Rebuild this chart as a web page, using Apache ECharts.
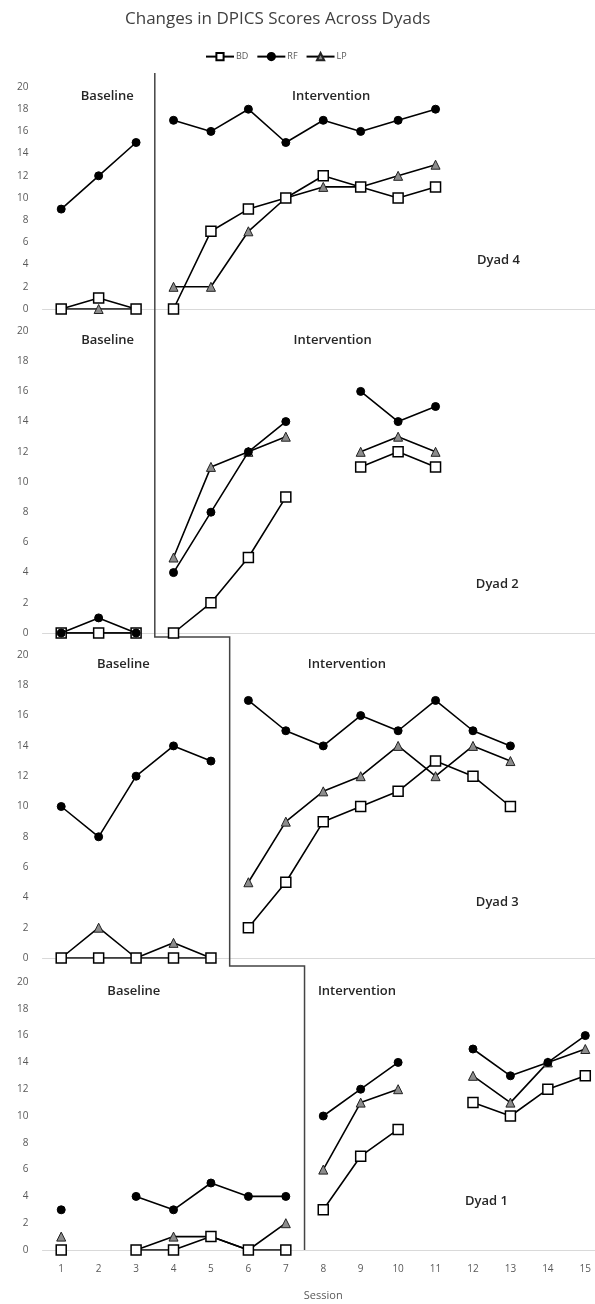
<!DOCTYPE html>
<html>
<head>
<meta charset="utf-8">
<script src="https://cdn.jsdelivr.net/npm/echarts@6/dist/echarts.min.js"></script>
<style>
html,body{margin:0;padding:0;background:#fff;}
#c{width:595px;height:1304px;}
</style>
</head>
<body>
<div id="c"></div>
<script>
// ---- data ----
const sessions = ['1','2','3','4','5','6','7','8','9','10','11','12','13','14','15'];
const yTicks = [0, 20, 2]; // min, max, step
const dyadNames = ['Dyad 4', 'Dyad 2', 'Dyad 3', 'Dyad 1'];
const phaseStart = [4, 4, 6, 8]; // first intervention session of each dyad
const measures = ['BD', 'RF', 'LP'];

const dyad4_BD = [0, 1, 0, 0, 7, 9, 10, 12, 11, 10, 11, null, null, null, null];
const dyad4_RF = [9, 12, 15, 17, 16, 18, 15, 17, 16, 17, 18, null, null, null, null];
const dyad4_LP = [0, 0, 0, 2, 2, 7, 10, 11, 11, 12, 13, null, null, null, null];

const dyad2_BD = [0, 0, 0, 0, 2, 5, 9, null, 11, 12, 11, null, null, null, null];
const dyad2_RF = [0, 1, 0, 4, 8, 12, 14, null, 16, 14, 15, null, null, null, null];
const dyad2_LP = [0, 0, 0, 5, 11, 12, 13, null, 12, 13, 12, null, null, null, null];

const dyad3_BD = [0, 0, 0, 0, 0, 2, 5, 9, 10, 11, 13, 12, 10, null, null];
const dyad3_RF = [10, 8, 12, 14, 13, 17, 15, 14, 16, 15, 17, 15, 14, null, null];
const dyad3_LP = [0, 2, 0, 1, 0, 5, 9, 11, 12, 14, 12, 14, 13, null, null];

const dyad1_BD = [0, null, 0, 0, 1, 0, 0, 3, 7, 9, null, 11, 10, 12, 13];
const dyad1_RF = [3, null, 4, 3, 5, 4, 4, 10, 12, 14, null, 15, 13, 14, 16];
const dyad1_LP = [1, null, 0, 1, 1, 0, 2, 6, 11, 12, null, 13, 11, 14, 15];

const dyadData = [
  {BD: dyad4_BD, RF: dyad4_RF, LP: dyad4_LP},
  {BD: dyad2_BD, RF: dyad2_RF, LP: dyad2_LP},
  {BD: dyad3_BD, RF: dyad3_RF, LP: dyad3_LP},
  {BD: dyad1_BD, RF: dyad1_RF, LP: dyad1_LP}
];

// ---- layout ----
const grids = [
  {top: 87, height: 222},
  {top: 331, height: 302},
  {top: 655, height: 303},
  {top: 982, height: 268}
];
const GRID_LEFT = 42.5, GRID_W = 561.5;
const FONT = 'Open Sans';

const styles = {
  BD: {symbol: 'rect', symbolSize: 10, itemStyle: {color: '#fff', borderColor: '#000', borderWidth: 1.5}, z: 3},
  RF: {symbol: 'circle', symbolSize: 8, itemStyle: {color: '#000', borderColor: '#000', borderWidth: 1}, z: 4},
  LP: {symbol: 'triangle', symbolSize: 9, itemStyle: {color: '#8c8c8c', borderColor: '#222', borderWidth: 1}, z: 2}
};

const option = {
  animation: false,
  backgroundColor: '#fff',
  title: {
    text: 'Changes in DPICS Scores Across Dyads',
    left: 120, top: 6,
    textStyle: {fontFamily: FONT, fontSize: 17, fontWeight: 'normal', color: '#404040'}
  },
  legend: {
    data: measures,
    top: 47, left: 200,
    itemWidth: 28, itemHeight: 9, itemGap: 8,
    textStyle: {fontFamily: FONT, fontSize: 9, color: '#595959', padding: [0, 0, 0, -3]}
  },
  grid: [], xAxis: [], yAxis: [], series: []
};

grids.forEach((g, i) => {
  const last = i === grids.length - 1;
  option.grid.push({left: GRID_LEFT, width: GRID_W, top: g.top, height: g.height,
    containLabel: false, outerBoundsMode: 'none'});
  option.xAxis.push({
    type: 'category', gridIndex: i, data: sessions, boundaryGap: true,
    axisLine: {lineStyle: {color: '#d9d9d9', width: 1}},
    axisTick: {show: false},
    axisLabel: {show: last, margin: 14, fontFamily: FONT, fontSize: 10, color: '#595959'},
    splitLine: {show: false},
    name: last ? 'Session' : '',
    nameLocation: 'middle', nameGap: 40,
    nameTextStyle: {fontFamily: FONT, fontSize: 11, color: '#595959'}
  });
  option.yAxis.push({
    type: 'value', gridIndex: i, min: yTicks[0], max: yTicks[1], interval: yTicks[2],
    axisLine: {show: false}, axisTick: {show: false}, splitLine: {show: false},
    axisLabel: {margin: 14, fontFamily: FONT, fontSize: 10, color: '#595959'}
  });
  const split = phaseStart[i] - 1;
  ['LP', 'BD', 'RF'].forEach(m => {
    const vals = dyadData[i][m];
    const base = vals.map((v, k) => k < split ? v : null);
    const inter = vals.map((v, k) => k >= split ? v : null);
    [base, inter].forEach(arr => {
      option.series.push(Object.assign({
        name: m, type: 'line', xAxisIndex: i, yAxisIndex: i,
        data: arr, connectNulls: false, showAllSymbol: true,
        lineStyle: {color: '#000', width: 1.6},
        emphasis: {disabled: true}
      }, JSON.parse(JSON.stringify(styles[m]))));
    });
  });
});

const chart = echarts.init(document.getElementById('c'), null, {renderer: 'canvas'});
chart.setOption(option);

// phase-change lines and panel texts, positioned through the axes' own scales
function xp(i, s) { return chart.convertToPixel({xAxisIndex: i}, String(s)); }
function yp(i, v) { return chart.convertToPixel({yAxisIndex: i}, v); }
function mid(i, s) { return (xp(i, s - 1) + xp(i, s)) / 2; }

const graphics = [];
const x1 = mid(0, phaseStart[0]);
const x2 = mid(2, phaseStart[2]);
const x3 = mid(3, phaseStart[3]);
const pts = [
  [x1, yp(0, 20) - 14],
  [x1, yp(1, 0) + 4],
  [x2, yp(1, 0) + 4],
  [x2, yp(2, 0) + 8],
  [x3, yp(2, 0) + 8],
  [x3, yp(3, 0)]
];
graphics.push({type: 'polyline', shape: {points: pts}, style: {stroke: '#444', lineWidth: 1.5, fill: null}, z: 1});

const labelStyle = {fontFamily: FONT, fontSize: 13, fontWeight: 600, fill: '#262626'};
const baseCenter = [2.23, 2.24, 2.66, 2.94];   // session position of "Baseline" label
const intCenter = [8.21, 8.25, 8.63, 8.9];     // session position of "Intervention" label
const dyadCenter = [12.68, 12.65, 12.65, 12.36];
const dyadY = [4.4, 3.2, 3.7, 3.6];
function xAt(i, pos) {
  const a = xp(i, sessions[0]), b = xp(i, sessions[1]);
  return a + (pos - 1) * (b - a);
}
grids.forEach((g, i) => {
  const ty = yp(i, 20) + 9;
  graphics.push({type: 'text', x: xAt(i, baseCenter[i]), y: ty, style: Object.assign({text: 'Baseline', align: 'center', verticalAlign: 'middle'}, labelStyle)});
  graphics.push({type: 'text', x: xAt(i, intCenter[i]), y: ty, style: Object.assign({text: 'Intervention', align: 'center', verticalAlign: 'middle'}, labelStyle)});
  graphics.push({type: 'text', x: xAt(i, dyadCenter[i]), y: yp(i, dyadY[i]), style: Object.assign({text: dyadNames[i], align: 'center', verticalAlign: 'middle'}, labelStyle)});
});
chart.setOption({graphic: graphics});
</script>
</body>
</html>
